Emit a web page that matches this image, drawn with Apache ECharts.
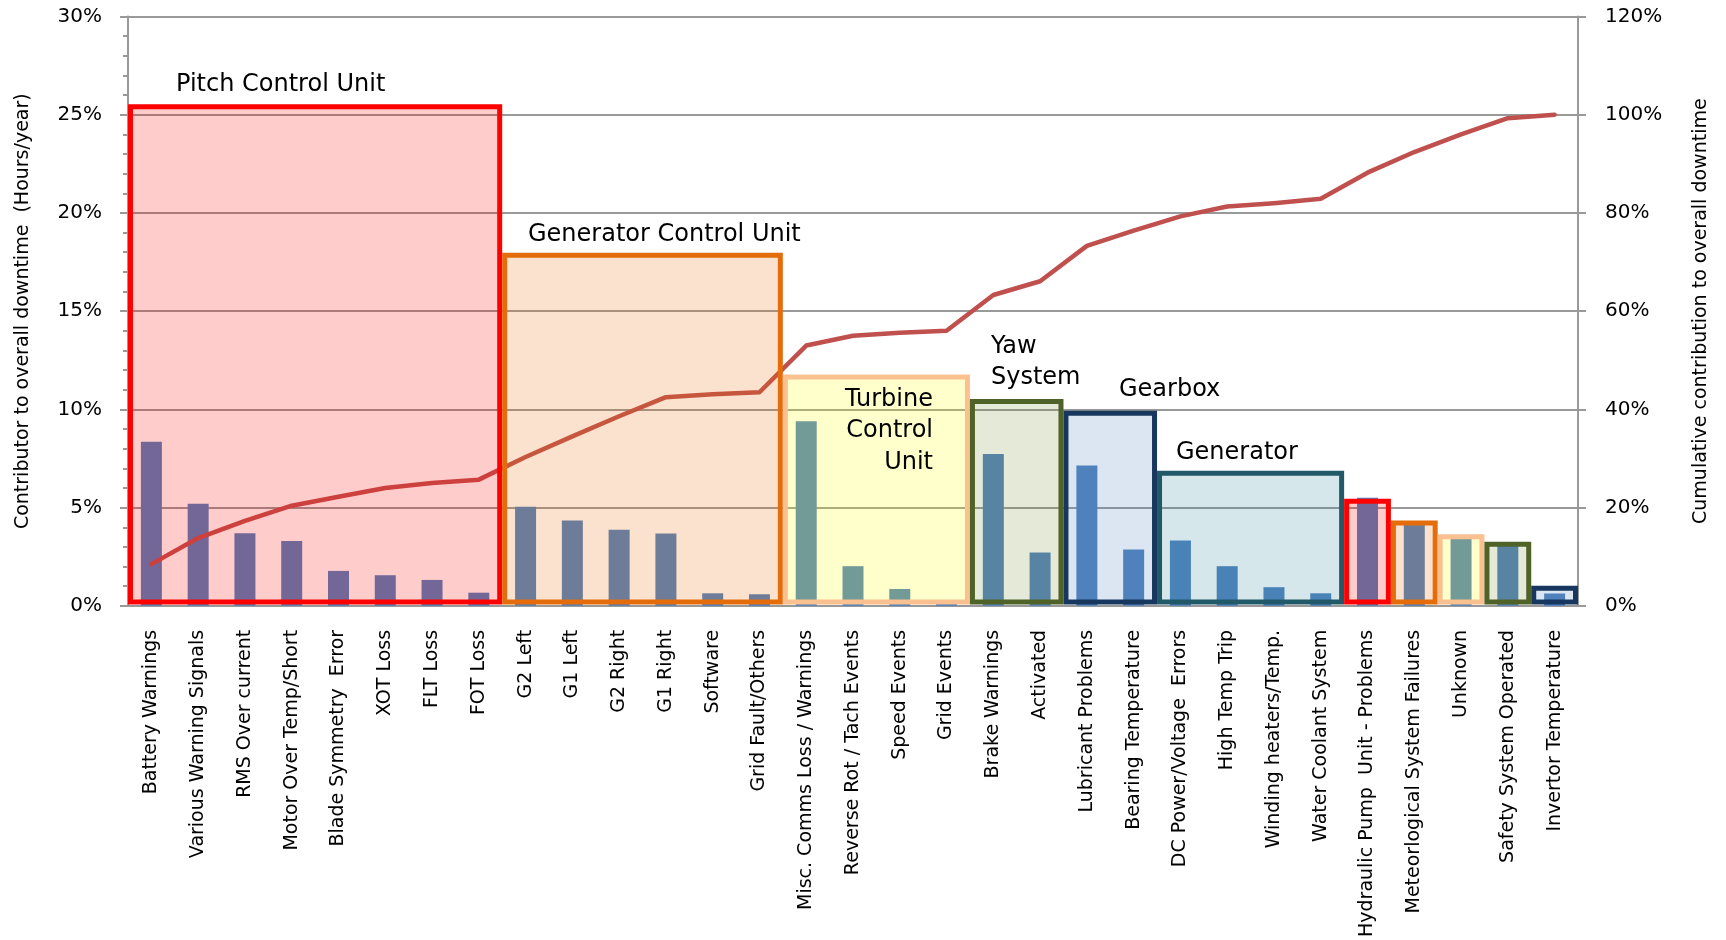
<!DOCTYPE html>
<html>
<head>
<meta charset="utf-8">
<title>Downtime pareto</title>
<script src="https://cdn.jsdelivr.net/npm/echarts@6/dist/echarts.min.js"></script>
<style>
  html, body { margin: 0; padding: 0; background: #fff; }
  #chart { width: 1726px; height: 940px; }
</style>
</head>
<body>
<div id="chart"></div>
<script>
var categories = [
  "Battery Warnings", "Various Warning Signals", "RMS Over current", "Motor Over Temp/Short",
  "Blade Symmetry  Error", "XOT Loss", "FLT Loss", "FOT Loss",
  "G2 Left", "G1 Left", "G2 Right", "G1 Right", "Software", "Grid Fault/Others",
  "Misc. Comms Loss / Warnings", "Reverse Rot / Tach Events", "Speed Events", "Grid Events",
  "Brake Warnings", "Activated",
  "Lubricant Problems", "Bearing Temperature",
  "DC Power/Voltage  Errors", "High Temp Trip", "Winding heaters/Temp.", "Water Coolant System",
  "Hydraulic Pump  Unit - Problems", "Meteorlogical System Failures", "Unknown",
  "Safety System Operated", "Invertor Temperature"
];

// share of downtime per cause (%)
var downtime = [8.35, 5.2, 3.7, 3.3, 1.78, 1.56, 1.32, 0.67,
  5.05, 4.35, 3.87, 3.68, 0.64, 0.59,
  9.4, 2.02, 0.86, 0.15,
  7.73, 2.72,
  7.15, 2.87,
  3.33, 2.02, 0.95, 0.64,
  5.5, 4.2, 3.5, 3.1, 0.63];

// cumulative share (%)
var cumulative = [8.5, 13.8, 17.3, 20.4, 22.2, 24.0, 25.0, 25.7,
  30.3, 34.5, 38.6, 42.5, 43.1, 43.5,
  53.0, 55.0, 55.6, 56.0,
  63.3, 66.1,
  73.3, 76.4,
  79.3, 81.3, 82.0, 82.9,
  88.2, 92.4, 96.0, 99.3, 100.0];

var leftTicks = [0, 5, 10, 15, 20, 25, 30];
var rightTicks = [0, 20, 40, 60, 80, 100, 120];

// subsystem boxes: [first category, last category, top (%)]
var groups = [
  [0, 7, 25.4],
  [8, 13, 17.85],
  [14, 17, 11.65],
  [18, 19, 10.4],
  [20, 21, 9.8],
  [22, 25, 6.75],
  [26, 26, 5.33],
  [27, 27, 4.22],
  [28, 28, 3.52],
  [29, 29, 3.14],
  [30, 30, 0.9]
];

var boxStyles = {
  red:    { stroke: "#FF0000", fill: "rgba(255,0,0,0.2)" },
  orange: { stroke: "#E46C0A", fill: "rgba(228,108,10,0.2)" },
  peach:  { stroke: "#FAC090", fill: "rgba(255,255,0,0.2)" },
  olive:  { stroke: "#4F6228", fill: "rgba(119,147,60,0.2)" },
  navy:   { stroke: "#17375E", fill: "rgba(79,129,189,0.2)" },
  teal:   { stroke: "#215968", fill: "rgba(49,133,156,0.2)" }
};
var groupStyle = ["red", "orange", "peach", "olive", "navy", "teal",
  "red", "orange", "peach", "olive", "navy"];

var FONT = "DejaVu Sans";
var GRID_COLOR = "#999999";

var chart = echarts.init(document.getElementById("chart"), null, { renderer: "canvas" });

var option = {
  animation: false,
  textStyle: { fontFamily: FONT, color: "#000" },
  grid: { left: 128, right: 148, top: 16.5, bottom: 329.5, containLabel: false },
  xAxis: {
    type: "category",
    data: categories,
    axisLine: { lineStyle: { color: GRID_COLOR, width: 2 } },
    axisTick: { length: 7, lineStyle: { color: GRID_COLOR, width: 2 } },
    axisLabel: { rotate: 90, interval: 0, fontSize: 19, margin: 24, color: "#000", fontFamily: FONT }
  },
  yAxis: [{
    type: "value",
    min: leftTicks[0],
    max: leftTicks[leftTicks.length - 1],
    interval: leftTicks[1] - leftTicks[0],
    name: "Contributor to overall downtime  (Hours/year)",
    nameLocation: "middle",
    nameRotate: 90,
    nameGap: 95,
    nameTextStyle: { fontSize: 19, color: "#000", fontFamily: FONT },
    axisLine: { show: true, lineStyle: { color: GRID_COLOR, width: 2 } },
    axisTick: { show: true, length: 8, lineStyle: { color: GRID_COLOR, width: 2 } },
    minorTick: { show: true, splitNumber: 5, length: 5, lineStyle: { color: GRID_COLOR, width: 2 } },
    axisLabel: { formatter: "{value}%", fontSize: 20, margin: 26, color: "#000", fontFamily: FONT },
    splitLine: { show: true, lineStyle: { color: GRID_COLOR, width: 2 } }
  }, {
    type: "value",
    position: "right",
    min: rightTicks[0],
    max: rightTicks[rightTicks.length - 1],
    interval: rightTicks[1] - rightTicks[0],
    name: "Cumulative contribution to overall downtime",
    nameLocation: "middle",
    nameRotate: 90,
    nameGap: 114,
    nameTextStyle: { fontSize: 19, color: "#000", fontFamily: FONT },
    axisLine: { show: true, lineStyle: { color: GRID_COLOR, width: 2 } },
    axisTick: { show: true, length: 8, lineStyle: { color: GRID_COLOR, width: 2 } },
    axisLabel: { formatter: "{value}%", fontSize: 20, margin: 27, color: "#000", fontFamily: FONT },
    splitLine: { show: false }
  }],
  series: [{
    name: "Downtime",
    type: "bar",
    data: downtime,
    barWidth: 21,
    itemStyle: { color: "#4F81BD" },
    z: 2
  }, {
    name: "Cumulative",
    type: "line",
    yAxisIndex: 1,
    data: cumulative,
    showSymbol: false,
    symbol: "none",
    lineStyle: { color: "#C0504D", width: 4.5, cap: "round", join: "round" },
    z: 3
  }, {
    name: "Subsystems",
    type: "custom",
    data: groups,
    z: 4,
    clip: false,
    renderItem: function (params, api) {
      var st = boxStyles[groupStyle[params.dataIndex]];
      var first = api.value(0), last = api.value(1), top = api.value(2);
      var bw = api.size([1, 0])[0];
      var p0 = api.coord([first, top]);
      var p1 = api.coord([last, 0.2]);
      var inset = 2.5;
      var x0 = p0[0] - bw / 2 + inset;
      var x1 = p1[0] + bw / 2 - inset;
      return {
        type: "rect",
        shape: { x: x0, y: p0[1], width: x1 - x0, height: p1[1] - p0[1] },
        style: { fill: st.fill, stroke: st.stroke, lineWidth: 5 }
      };
    }
  }],
  graphic: [
    { type: "text", z: 100, style: { text: "Pitch Control Unit", x: 176, y: 85, textVerticalAlign: "middle", fontSize: 24, fontFamily: FONT, fill: "#000" } },
    { type: "text", z: 100, style: { text: "Generator Control Unit", x: 528, y: 235, textVerticalAlign: "middle", fontSize: 24, fontFamily: FONT, fill: "#000" } },
    { type: "text", z: 100, style: { text: "Turbine\nControl\nUnit", x: 933, y: 384, textAlign: "right", textVerticalAlign: "top", lineHeight: 31.5, fontSize: 24, fontFamily: FONT, fill: "#000" } },
    { type: "text", z: 100, style: { text: "Yaw\nSystem", x: 991, y: 331, textVerticalAlign: "top", lineHeight: 31.5, fontSize: 24, fontFamily: FONT, fill: "#000" } },
    { type: "text", z: 100, style: { text: "Gearbox", x: 1119, y: 390, textVerticalAlign: "middle", fontSize: 24, fontFamily: FONT, fill: "#000" } },
    { type: "text", z: 100, style: { text: "Generator", x: 1176, y: 453, textVerticalAlign: "middle", fontSize: 24, fontFamily: FONT, fill: "#000" } }
  ]
};

chart.setOption(option);
</script>
</body>
</html>
